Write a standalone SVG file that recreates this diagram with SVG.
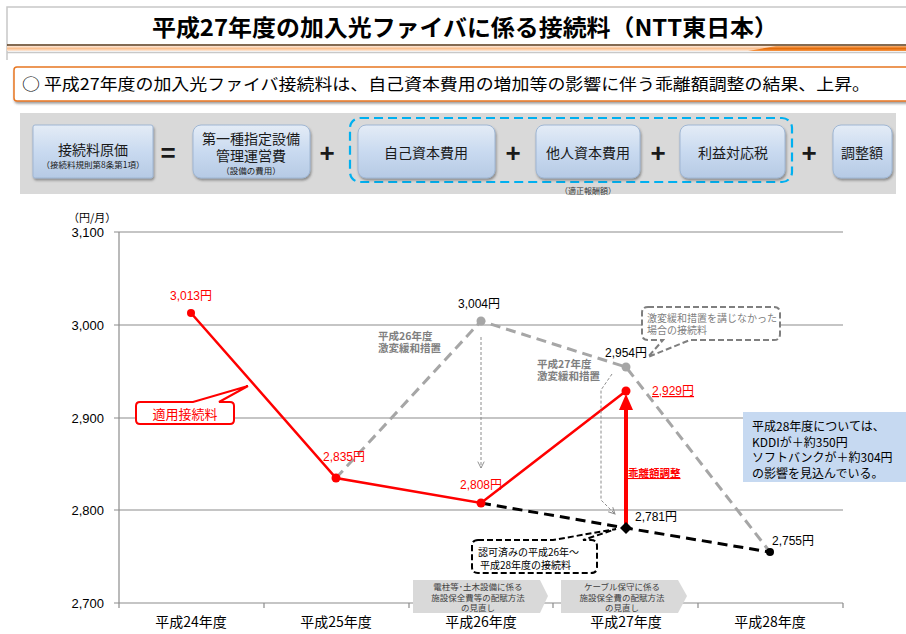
<svg xmlns="http://www.w3.org/2000/svg" width="906" height="634" viewBox="0 0 906 634">
<defs>
<style>
.jp{font-family:"Noto Sans CJK JP","Noto Sans",sans-serif}
.num{font-family:"Liberation Sans","Noto Sans CJK JP",sans-serif}
.grid{stroke:#8c8c8c;stroke-width:1.2;fill:none}
.box{fill:url(#bg);stroke:#9fb6d3;stroke-width:1;filter:url(#sh)}
.boxt{font-family:"Noto Sans CJK JP",sans-serif;font-size:14px;fill:#1a1a1a;text-anchor:middle}
.op{font-family:"Liberation Sans",sans-serif;font-size:26px;font-weight:bold;fill:#1a1a1a;text-anchor:middle}
.ylab{font-family:"Liberation Sans",sans-serif;font-size:13px;fill:#000;text-anchor:end}
.xlab{font-family:"Noto Sans CJK JP",sans-serif;font-size:14px;fill:#000;text-anchor:middle}
.val{font-family:"Liberation Sans","Noto Sans CJK JP",sans-serif;font-size:12px}
.gnote{font-family:"Noto Sans CJK JP",sans-serif;font-size:10.5px;font-weight:bold;fill:#7f7f7f}
.thin{stroke:#8c8c8c;stroke-width:1;stroke-dasharray:3 2;fill:none}
.pent{fill:#d9d9d9}
.pentt{font-family:"Noto Sans CJK JP",sans-serif;font-size:8.5px;fill:#404040;text-anchor:middle}
.note{font-family:"Noto Sans CJK JP",sans-serif;font-size:12px;fill:#000}
</style>
<linearGradient id="bg" x1="0" y1="0" x2="0" y2="1">
<stop offset="0" stop-color="#e4ecf6"/>
<stop offset="0.5" stop-color="#c9daf0"/>
<stop offset="1" stop-color="#b6cae4"/>
</linearGradient>
<linearGradient id="band" x1="0" y1="0" x2="0" y2="1">
<stop offset="0" stop-color="#fde9d9"/>
<stop offset="0.5" stop-color="#fac090"/>
<stop offset="1" stop-color="#fde9d9"/>
</linearGradient>
<linearGradient id="band2" x1="0" y1="0" x2="0" y2="1">
<stop offset="0" stop-color="#f9b071"/>
<stop offset="0.5" stop-color="#e46c0a"/>
<stop offset="1" stop-color="#f79646"/>
</linearGradient>
<filter id="sh" x="-10%" y="-10%" width="130%" height="140%">
<feDropShadow dx="1" dy="2" stdDeviation="1.2" flood-color="#404040" flood-opacity="0.5"/>
</filter>
<marker id="chev" viewBox="0 0 10 10" refX="9" refY="5" markerWidth="8" markerHeight="8" orient="auto" markerUnits="userSpaceOnUse">
<path d="M1,1 L9,5 L1,9" fill="none" stroke="#8c8c8c" stroke-width="1.2"/>
</marker>
</defs>
<rect width="906" height="634" fill="#fff"/>

<!-- header -->
<g id="header">
<path d="M7,60 V7 H906" fill="none" stroke="#c8c8c8" stroke-width="1.5"/>
<text class="jp" x="465" y="36" font-size="23" font-weight="bold" text-anchor="middle" textLength="626" lengthAdjust="spacingAndGlyphs" fill="#000">平成27年度の加入光ファイバに係る接続料（NTT東日本）</text>
<line x1="7" y1="45" x2="906" y2="45" stroke="#5a3a1a" stroke-width="1.5"/>
<rect x="7" y="46" width="899" height="5" fill="url(#band)"/>
<polygon points="748,51 776,46 906,46 906,51" fill="url(#band2)"/>
<line x1="7" y1="52.5" x2="906" y2="52.5" stroke="#c8c8c8" stroke-width="1.5"/>
</g>

<g id="subtitle">
<rect x="14" y="67" width="900" height="34" rx="3" fill="#fff" stroke="#e87722" stroke-width="1.5" filter="url(#sh)"/>
<text class="jp" x="22" y="90" font-size="16" fill="#000" textLength="848" lengthAdjust="spacingAndGlyphs">○  平成27年度の加入光ファイバ接続料は、自己資本費用の増加等の影響に伴う乖離額調整の結果、上昇。</text>
</g>

<!-- formula bar -->
<rect x="20" y="113" width="876" height="81" fill="#d9d9d9"/>
<rect x="350" y="118" width="442" height="64" rx="10" fill="none" stroke="#00b0f0" stroke-width="2.2" stroke-dasharray="9 5"/>
<g id="f-genka">
<rect class="box" x="33" y="125" width="120" height="53" rx="2"/>
<text class="boxt" x="93" y="155" font-size="17">接続料原価</text>
<text class="boxt" x="93" y="168" style="font-size:8.5px">（接続料規則第8条第1項）</text>
</g>
<text class="op" x="168" y="162">=</text>
<g id="f-kanri">
<rect class="box" x="193" y="125" width="117" height="53" rx="8"/>
<text class="boxt" x="251" y="144">第一種指定設備</text>
<text class="boxt" x="251" y="161">管理運営費</text>
<text class="boxt" x="251" y="174" style="font-size:8.5px">（設備の費用）</text>
</g>
<text class="op" x="327" y="162">+</text>
<g id="f-jiko">
<rect class="box" x="358" y="125" width="137" height="53" rx="8"/>
<text class="boxt" x="426" y="158">自己資本費用</text>
</g>
<text class="op" x="513" y="162">+</text>
<g id="f-tanin">
<rect class="box" x="536" y="125" width="104" height="53" rx="8"/>
<text class="boxt" x="588" y="158">他人資本費用</text>
</g>
<text class="op" x="658" y="162">+</text>
<g id="f-rieki">
<rect class="box" x="680" y="125" width="105" height="53" rx="8"/>
<text class="boxt" x="733" y="158">利益対応税</text>
</g>
<text class="op" x="809" y="162">+</text>
<g id="f-chosei">
<rect class="box" x="833" y="125" width="59" height="53" rx="8"/>
<text class="boxt" x="862" y="158">調整額</text>
</g>
<text class="boxt" x="588" y="194" style="font-size:8px;fill:#333">（適正報酬額）</text>

<!-- chart axes -->
<g id="axes">
<line class="grid" x1="119" y1="232" x2="843" y2="232"/>
<line class="grid" x1="119" y1="325" x2="843" y2="325"/>
<line class="grid" x1="119" y1="418" x2="843" y2="418"/>
<line class="grid" x1="119" y1="510" x2="843" y2="510"/>
<line class="grid" x1="114" y1="603" x2="843" y2="603"/>
<line class="grid" x1="119" y1="232" x2="119" y2="608"/>
<path class="grid" d="M114,232 H119 M114,325 H119 M114,418 H119 M114,510 H119 M264,603 V608 M409,603 V608 M553,603 V608 M698,603 V608 M843,603 V608"/>
<text class="jp" x="68" y="222" font-size="11" fill="#000">（円/月）</text>
<text class="ylab" x="104" y="237">3,100</text>
<text class="ylab" x="104" y="330">3,000</text>
<text class="ylab" x="104" y="423">2,900</text>
<text class="ylab" x="104" y="515">2,800</text>
<text class="ylab" x="104" y="608">2,700</text>
<text class="xlab" x="191" y="627">平成24年度</text>
<text class="xlab" x="336" y="627">平成25年度</text>
<text class="xlab" x="481" y="627">平成26年度</text>
<text class="xlab" x="626" y="627">平成27年度</text>
<text class="xlab" x="770" y="627">平成28年度</text>
</g>

<!-- connectors / series -->
<g id="connectors">
<polyline points="336,478 481,321 626,367 770,552" fill="none" stroke="#a6a6a6" stroke-width="3" stroke-dasharray="10 6"/>
<polyline points="481,503 626,528 770,552" fill="none" stroke="#000" stroke-width="3" stroke-dasharray="10 6"/>
<polyline points="191,313 336,478 481,503 626,391" fill="none" stroke="#ff0000" stroke-width="2.5"/>
<line x1="481" y1="337" x2="481" y2="468" class="thin" marker-end="url(#chev)"/>
<polyline points="612,374 601,390 601,500 615,514" class="thin" marker-end="url(#chev)"/>
<line x1="626" y1="524" x2="626" y2="408" stroke="#ff0000" stroke-width="4"/>
<polygon points="626,394 619,410 633,410" fill="#ff0000"/>
</g>

<g id="points">
<circle cx="191" cy="313" r="4" fill="#ff0000"/>
<circle cx="336" cy="478" r="4.5" fill="#ff0000"/>
<circle cx="481" cy="503" r="4.5" fill="#ff0000"/>
<circle cx="626" cy="391" r="4.5" fill="#ff0000"/>
<circle cx="481" cy="321" r="4.5" fill="#a6a6a6"/>
<circle cx="626" cy="367" r="4.5" fill="#a6a6a6"/>
<polygon points="626,522 632,528 626,534 620,528" fill="#000"/>
<circle cx="770" cy="552" r="4" fill="#000"/>
</g>

<g id="labels">
<text class="val" x="170" y="300" fill="#ff0000">3,013円</text>
<text class="val" x="323" y="461" fill="#ff0000">2,835円</text>
<text class="val" x="460" y="489" fill="#ff0000">2,808円</text>
<text class="val" x="458" y="308" fill="#000">3,004円</text>
<text class="val" x="605" y="357" fill="#000">2,954円</text>
<text class="val" x="652" y="395" fill="#ff0000" text-decoration="underline">2,929円</text>
<text class="val" x="635" y="521" fill="#000">2,781円</text>
<text class="val" x="772" y="545" fill="#000">2,755円</text>
<text class="jp" x="628" y="477" font-size="10.5" font-weight="bold" fill="#ff0000" text-decoration="underline">乖離額調整</text>
<text class="gnote" x="378" y="340">平成26年度</text>
<text class="gnote" x="378" y="352">激変緩和措置</text>
<text class="gnote" x="537" y="368">平成27年度</text>
<text class="gnote" x="537" y="380">激変緩和措置</text>
</g>

<g id="callout-tekiyo">
<path d="M140,402 H193 L248,386 L219,402 H230 Q234,402 234,406 V420 Q234,424 230,424 H140 Q136,424 136,420 V406 Q136,402 140,402 Z" fill="#fff" stroke="#ff0000" stroke-width="2"/>
<text class="jp" x="185" y="419" font-size="13" fill="#ff0000" text-anchor="middle">適用接続料</text>
</g>

<g id="callout-gekihen">
<path d="M648,307 H774 Q780,307 780,313 V334 Q780,340 774,340 H690 L648,357 L663,340 H648 Q642,340 642,334 V313 Q642,307 648,307 Z" fill="#fff" stroke="#7f7f7f" stroke-width="2" stroke-dasharray="6 3"/>
<text class="jp" x="647" y="322" font-size="10" fill="#7f7f7f">激変緩和措置を講じなかった</text>
<text class="jp" x="647" y="334" font-size="10" fill="#7f7f7f">場合の接続料</text>
</g>

<g id="callout-ninka">
<path d="M478,540 H553 L616,529 L583,540 H591 Q597,540 597,546 V567 Q597,573 591,573 H478 Q472,573 472,567 V546 Q472,540 478,540 Z" fill="#fff" stroke="#000" stroke-width="2" stroke-dasharray="6 3"/>
<text class="jp" x="478" y="556" font-size="10" fill="#000">認可済みの平成26年～</text>
<text class="jp" x="480" y="569" font-size="10" fill="#000">平成28年度の接続料</text>
</g>

<g id="note-h28">
<rect x="743" y="412" width="163" height="70" fill="#c6d9f1"/>
<text class="note" x="752" y="431">平成28年度については、</text>
<text class="note" x="752" y="446.5">KDDIが＋約350円</text>
<text class="note" x="752" y="462">ソフトバンクが＋約304円</text>
<text class="note" x="752" y="477.5">の影響を見込んでいる。</text>
</g>

<g id="arrow-h26">
<polygon class="pent" points="413,580 540,580 548,596 540,613 413,613"/>
<text class="pentt" x="478" y="590">電柱等･土木設備に係る</text>
<text class="pentt" x="478" y="601">施設保全費等の配賦方法</text>
<text class="pentt" x="478" y="611">の見直し</text>
</g>
<g id="arrow-h27">
<polygon class="pent" points="561,580 678,580 687,596 678,613 561,613"/>
<text class="pentt" x="622" y="590">ケーブル保守に係る</text>
<text class="pentt" x="622" y="601">施設保全費の配賦方法</text>
<text class="pentt" x="622" y="611">の見直し</text>
</g>
</svg>
